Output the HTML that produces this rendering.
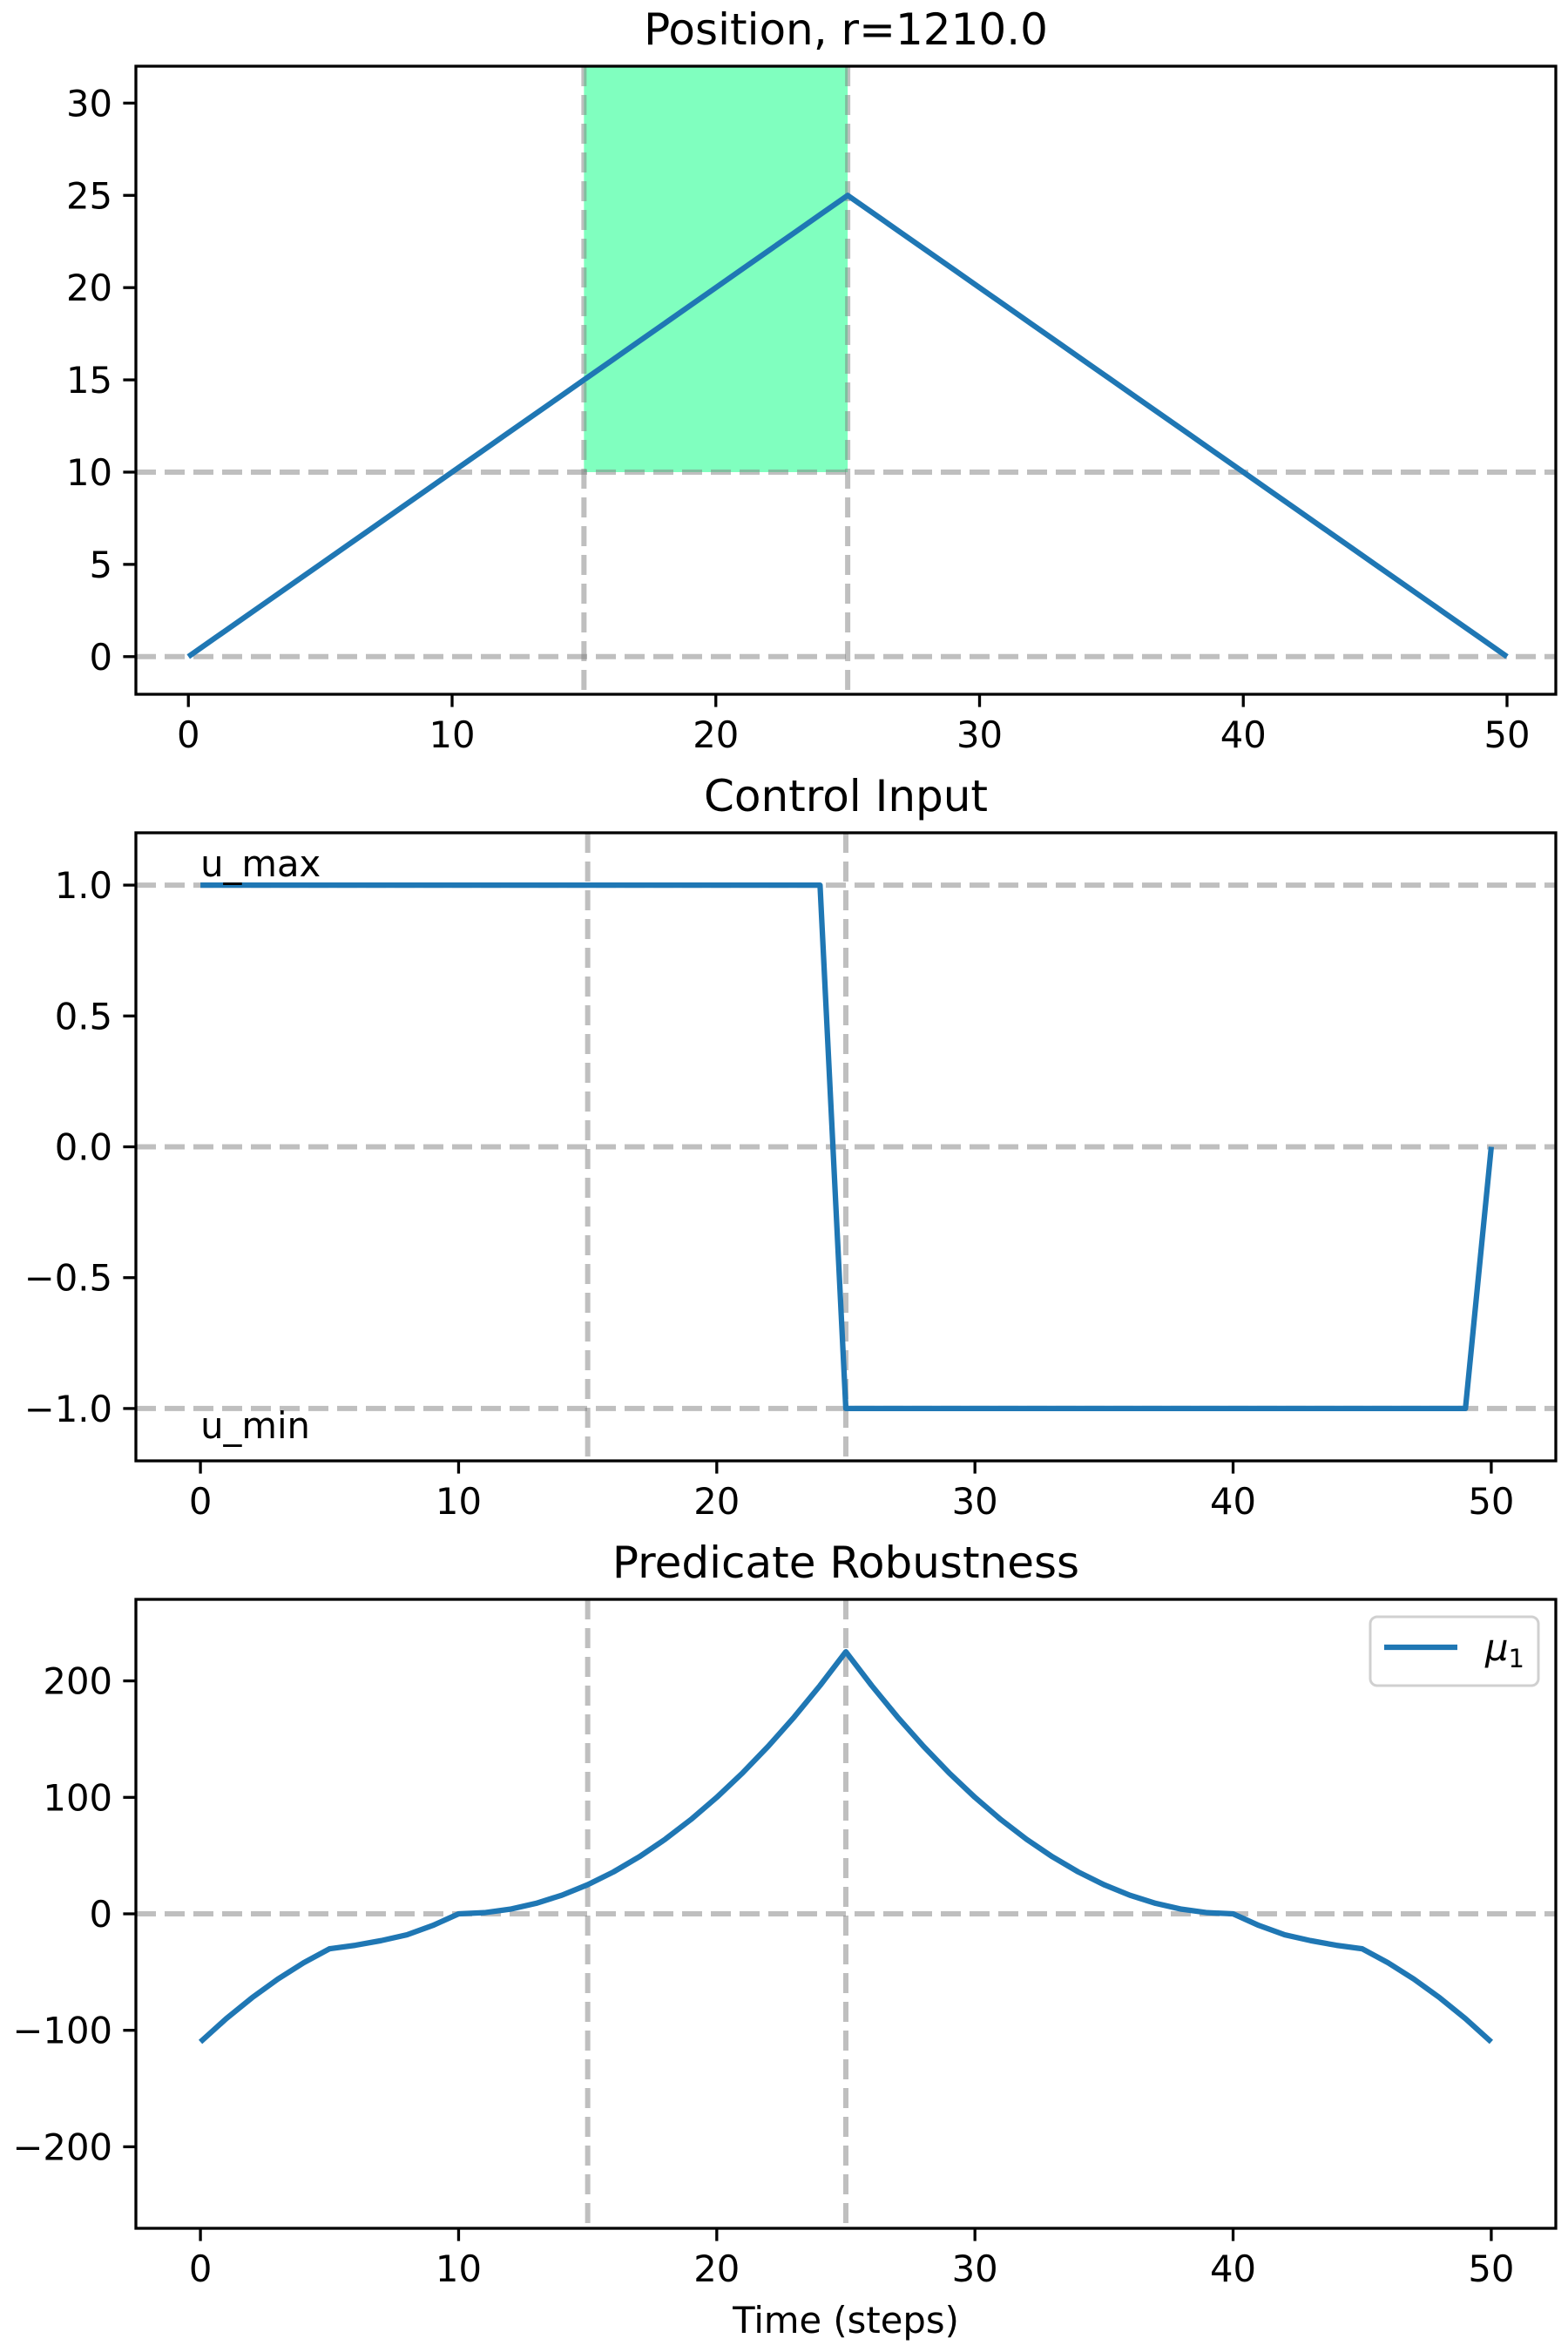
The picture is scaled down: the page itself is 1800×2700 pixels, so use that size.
<!DOCTYPE html>
<html><head><meta charset="utf-8"><style>
html,body{margin:0;padding:0;background:#fff}
svg{display:block;font-family:"DejaVu Sans","Liberation Sans",sans-serif}
</style></head><body>
<svg id="fig" width="1800" height="2700" viewBox="0 0 1800 2700" xmlns="http://www.w3.org/2000/svg"></svg>
<script>
const steps = Array.from({length:51},(_,i)=>i);
const positionValues = [0,1,2,3,4,5,6,7,8,9,10,11,12,13,14,15,16,17,18,19,20,21,22,23,24,25,24,23,22,21,20,19,18,17,16,15,14,13,12,11,10,9,8,7,6,5,4,3,2,1,0];
const controlValues = [1,1,1,1,1,1,1,1,1,1,1,1,1,1,1,1,1,1,1,1,1,1,1,1,1,-1,-1,-1,-1,-1,-1,-1,-1,-1,-1,-1,-1,-1,-1,-1,-1,-1,-1,-1,-1,-1,-1,-1,-1,-1,0];
const robustValues = [-110,-90,-72,-56,-42,-30,-27,-23,-18,-10,0,1,4,9,16,25,36,49,64,81,100,121,144,169,196,225,196,169,144,121,100,81,64,49,36,25,16,9,4,1,0,-10,-18,-23,-27,-30,-42,-56,-72,-90,-110];
const xTicks = [0,10,20,30,40,50];
const posYTicks = [0,5,10,15,20,25,30];
const ctrlYTicks = [-1.0,-0.5,0.0,0.5,1.0];
const ctrlYLabels = ["\u22121.0","\u22120.5","0.0","0.5","1.0"];
const robYTicks = [-200,-100,0,100,200];
const robYLabels = ["\u2212200","\u2212100","0","100","200"];
const phaseBounds = [15,25];
const targetLow = 10;

const NS="http://www.w3.org/2000/svg";
const svg=document.getElementById('fig');
function el(tag,attrs,parent){const e=document.createElementNS(NS,tag);for(const k in attrs)e.setAttribute(k,attrs[k]);(parent||svg).appendChild(e);return e;}
function axis(d0,d1,p0,p1){return v=>p0+(v-d0)*(p1-p0)/(d1-d0);}

const L=156,R=1786;
function makePanel(name,top,bottom,xd,yd,title){
  const g=el('g',{});
  
  
  return {g,top,bottom,x:axis(xd[0],xd[1],L,R),y:axis(yd[0],yd[1],bottom,top),title};
}
function gridH(p,v,name){const l=el('line',{x1:L,x2:R,y1:p.y(v),y2:p.y(v),stroke:'#808080','stroke-opacity':0.5,'stroke-width':6,'stroke-dasharray':'23 10'},p.g);
  }
function gridV(p,v,name){const l=el('line',{x1:p.x(v),x2:p.x(v),y1:p.top,y2:p.bottom,stroke:'#808080','stroke-opacity':0.5,'stroke-width':6,'stroke-dasharray':'23 10'},p.g);
  }
function series(p,xs,ys,name){
  const d=xs.map((x,i)=>(i?'L':'M')+p.x(x).toFixed(2)+' '+p.y(ys[i]).toFixed(2)).join(' ');
  const path=el('path',{d,fill:'none',stroke:'#1f77b4','stroke-width':6.25,'stroke-linejoin':'round'},p.g);
  
}
function frame(p,yt,ylabels,xname){
  const r=el('rect',{x:L,y:p.top,width:R-L,height:p.bottom-p.top,fill:'none',stroke:'#000','stroke-width':3.3},p.g);
  
  xTicks.forEach(v=>{
    el('line',{x1:p.x(v),x2:p.x(v),y1:p.bottom,y2:p.bottom+14.6,stroke:'#000','stroke-width':3.3},p.g);
    const t=el('text',{x:p.x(v),y:p.bottom+61,'font-size':41.7,'text-anchor':'middle'},p.g);
    t.textContent=String(v);
    
  });
  yt.forEach((v,i)=>{
    el('line',{x1:L-14.6,x2:L,y1:p.y(v),y2:p.y(v),stroke:'#000','stroke-width':3.3},p.g);
    const t=el('text',{x:L-27,y:p.y(v)+15,'font-size':41.7,'text-anchor':'end'},p.g);
    t.textContent=ylabels[i];
    
  });
  const tt=el('text',{x:(L+R)/2,y:p.top-25,'font-size':50,'text-anchor':'middle'},p.g);
  tt.textContent=p.title;
  
}

// Panel 1
const p1=makePanel('position-panel',76,797,[-1.99,51.85],[-2.04,32],'Position, r=1210.0');
const rect=el('rect',{x:p1.x(phaseBounds[0]),y:p1.top,width:p1.x(phaseBounds[1])-p1.x(phaseBounds[0]),height:p1.y(targetLow)-p1.top,fill:'#80ffbf'},p1.g);

gridH(p1,0,'zero-line');gridH(p1,targetLow,'target-line');
phaseBounds.forEach(v=>gridV(p1,v,'phase-boundary'));
series(p1,steps,positionValues,'position-line');
frame(p1,posYTicks,posYTicks.map(String),'position-title');

// Panel 2
const p2=makePanel('control-panel',956,1677,[-2.5,52.5],[-1.2,1.2],'Control Input');
gridH(p2,1,'u-max-line');gridH(p2,0,'zero-line');gridH(p2,-1,'u-min-line');
phaseBounds.forEach(v=>gridV(p2,v,'phase-boundary'));
series(p2,steps,controlValues,'control-line');
frame(p2,ctrlYTicks,ctrlYLabels,'control-title');
let t=el('text',{x:p2.x(0),y:p2.y(1)-10,'font-size':41.7},p2.g);t.textContent='u_max';

t=el('text',{x:p2.x(0),y:p2.y(-1)+34,'font-size':41.7},p2.g);t.textContent='u_min';


// Panel 3
const p3=makePanel('robustness-panel',1836,2558,[-2.5,52.5],[-270,270],'Predicate Robustness');
gridH(p3,0,'zero-line');
phaseBounds.forEach(v=>gridV(p3,v,'phase-boundary'));
series(p3,steps,robustValues,'robustness-line');
frame(p3,robYTicks,robYLabels,'robustness-title');
const xl=el('text',{x:(L+R)/2,y:2678,'font-size':41.7,'text-anchor':'middle'},p3.g);xl.textContent='Time (steps)';

const lg=el('g',{},p3.g);

el('rect',{x:1573,y:1856,width:193,height:79,rx:8,fill:'#fff','fill-opacity':0.8,stroke:'#d0d0d0','stroke-width':3},lg);
el('line',{x1:1589,x2:1673,y1:1891,y2:1891,stroke:'#1f77b4','stroke-width':6.25},lg);
const lt=el('text',{x:1705,y:1906,'font-size':41.7,'font-style':'italic'},lg);
lt.textContent='\u03bc';
const sub=el('tspan',{'font-size':29,'font-style':'normal',dy:8},lt);sub.textContent='1';

</script>
</body></html>
